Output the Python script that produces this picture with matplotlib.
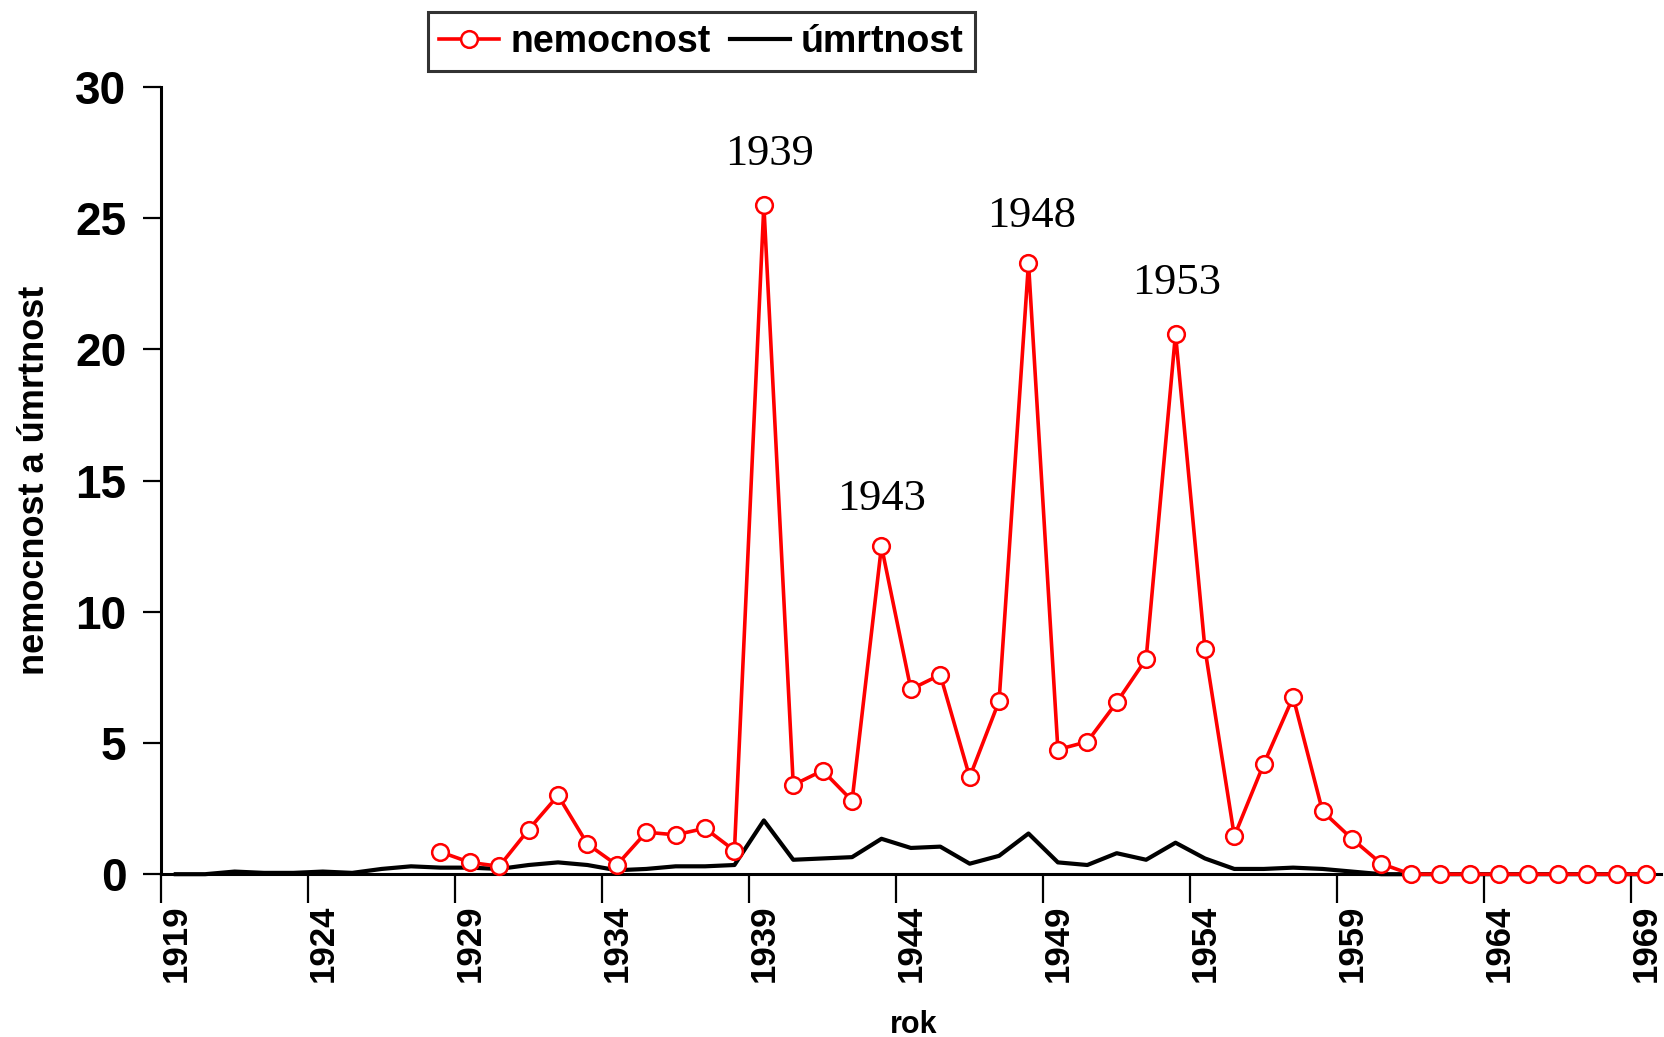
import matplotlib
matplotlib.use("Agg")
import matplotlib.pyplot as plt
from matplotlib.ticker import FixedLocator, NullFormatter

# roky a hodnoty
roky = list(range(1919, 1970))
nemoc_roky = list(range(1928, 1970))
nemocnost = [0.85, 0.45, 0.3, 1.7, 3.0, 1.15, 0.35, 1.6, 1.5, 1.75, 0.9,
             25.5, 3.4, 3.95, 2.8, 12.5, 7.05, 7.6, 3.7, 6.6, 23.3,
             4.75, 5.05, 6.55, 8.2, 20.6, 8.6, 1.45, 4.2, 6.75, 2.4,
             1.35, 0.4, 0, 0, 0, 0, 0, 0, 0, 0, 0]
umrtnost = [0.0, 0.0, 0.1, 0.05, 0.05, 0.1, 0.05, 0.2, 0.3, 0.25, 0.25,
            0.2, 0.35, 0.45, 0.35, 0.15, 0.2, 0.3, 0.3, 0.35, 2.05,
            0.55, 0.6, 0.65, 1.35, 1.0, 1.05, 0.4, 0.7, 1.55, 0.45,
            0.35, 0.8, 0.55, 1.2, 0.6, 0.2, 0.2, 0.25, 0.2, 0.1,
            0.0, 0, 0, 0, 0, 0, 0, 0, 0, 0]
popisky_roky = list(range(1919, 1970, 5))
popisky = [str(r) for r in popisky_roky]
vrcholy = [1939, 1943, 1948, 1953]
vrcholy_xy = [(1939.2, 27.45), (1943.0, 14.3), (1948.1, 25.1), (1953.05, 22.55)]

plt.rcParams['font.family'] = ['Liberation Sans', 'DejaVu Sans']

fig = plt.figure(figsize=(16.64, 10.37), dpi=100)
ax = fig.add_axes([0.0968, 0.157, 0.9012, 0.759])

ax.plot(roky, umrtnost, color='black', lw=3.0, zorder=3, clip_on=False,
        label='úmrtnost')
ax.plot(nemoc_roky, nemocnost, color='#ff0000', lw=2.6, marker='o', ms=12,
        mfc='white', mec='#ff0000', mew=1.8, zorder=4, clip_on=False,
        label='nemocnost')

ax.set_xlim(1918.5, 1969.5)
ax.set_ylim(0, 30)
ax.set_yticks([0, 5, 10, 15, 20, 25, 30])

ax.xaxis.set_major_locator(FixedLocator([1918.5 + 5 * k for k in range(11)]))
ax.xaxis.set_major_formatter(NullFormatter())
ax.xaxis.set_minor_locator(FixedLocator(popisky_roky))
ax.set_xticklabels(popisky, minor=True)
ax.tick_params(axis='x', which='major', length=21, width=1.6, direction='out')
ax.tick_params(axis='x', which='minor', length=0, pad=22, labelsize=25,
               labelrotation=90)
for t in ax.get_xticklabels(minor=True):
    t.set_fontweight('bold')
ax.tick_params(axis='y', length=13, width=1.6, pad=12, labelsize=33)
for t in ax.get_yticklabels():
    t.set_fontweight('bold')

for s in ['top', 'right']:
    ax.spines[s].set_visible(False)
for s in ['left', 'bottom']:
    ax.spines[s].set_linewidth(2.2)

for rok, (x, y) in zip(vrcholy, vrcholy_xy):
    ax.text(x, y, str(rok), ha='center', va='center', fontsize=32,
            family='Liberation Serif')

h, l = ax.get_legend_handles_labels()
leg = fig.legend(h[::-1], l[::-1], loc='upper center', ncol=2,
                 bbox_to_anchor=(0.4215, 0.988), frameon=True, fancybox=False,
                 prop={'weight': 'bold', 'size': 27}, handlelength=1.6,
                 handletextpad=0.3, columnspacing=0.5, borderpad=0.3,
                 borderaxespad=0)
leg.get_frame().set_edgecolor('black')
leg.get_frame().set_linewidth(2.2)

fig.text(0.021, 0.537, 'nemocnost a úmrtnost', rotation=90, ha='center',
         va='center', fontsize=26, fontweight='bold')
fig.text(0.549, 0.012, 'rok', ha='center', va='center', fontsize=22,
         fontweight='bold')

fig.savefig('out.png', dpi=100)
